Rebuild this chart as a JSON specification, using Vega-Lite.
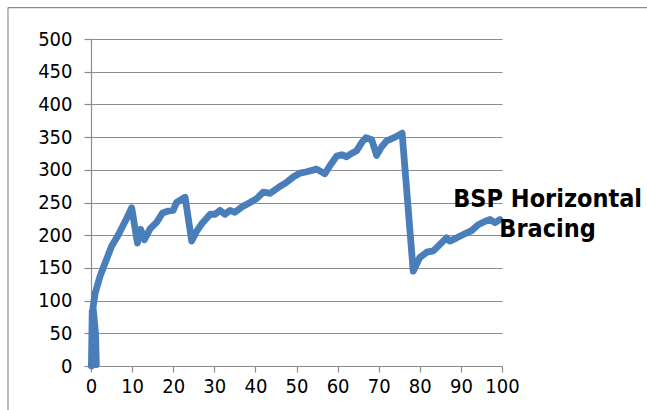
{
  "$schema": "https://vega.github.io/schema/vega-lite/v6.json",
  "width": 411,
  "height": 327,
  "autosize": {"type": "none"},
  "padding": {"left": 91, "top": 39, "right": 145, "bottom": 44},
  "background": "white",
  "config": {
    "view": {"stroke": null},
    "font": "DejaVu Sans Condensed"
  },
  "datasets": {
    "curve": [
      {"i": 0, "x": 0.1, "y": 0},
      {"i": 1, "x": 0.3, "y": 84},
      {"i": 2, "x": 1.3, "y": 2},
      {"i": 3, "x": 1.1, "y": 50},
      {"i": 4, "x": 0.5, "y": 90},
      {"i": 5, "x": 1.0, "y": 111},
      {"i": 6, "x": 2.2, "y": 137},
      {"i": 7, "x": 3.4, "y": 157},
      {"i": 8, "x": 5.0, "y": 183},
      {"i": 9, "x": 6.6, "y": 200},
      {"i": 10, "x": 8.7, "y": 226},
      {"i": 11, "x": 9.9, "y": 242},
      {"i": 12, "x": 11.3, "y": 188},
      {"i": 13, "x": 12.1, "y": 209},
      {"i": 14, "x": 13.0, "y": 193},
      {"i": 15, "x": 14.4, "y": 210},
      {"i": 16, "x": 16.0, "y": 220},
      {"i": 17, "x": 17.4, "y": 234},
      {"i": 18, "x": 18.8, "y": 237},
      {"i": 19, "x": 20.0, "y": 238},
      {"i": 20, "x": 20.8, "y": 250},
      {"i": 21, "x": 22.9, "y": 258},
      {"i": 22, "x": 24.5, "y": 191},
      {"i": 23, "x": 25.7, "y": 206},
      {"i": 24, "x": 26.9, "y": 217},
      {"i": 25, "x": 29.0, "y": 232},
      {"i": 26, "x": 30.2, "y": 232},
      {"i": 27, "x": 31.4, "y": 238},
      {"i": 28, "x": 32.6, "y": 232},
      {"i": 29, "x": 33.8, "y": 238},
      {"i": 30, "x": 35.0, "y": 235},
      {"i": 31, "x": 36.7, "y": 243},
      {"i": 32, "x": 38.7, "y": 250},
      {"i": 33, "x": 40.3, "y": 256},
      {"i": 34, "x": 41.9, "y": 266},
      {"i": 35, "x": 43.6, "y": 264},
      {"i": 36, "x": 45.6, "y": 273},
      {"i": 37, "x": 47.4, "y": 280},
      {"i": 38, "x": 49.2, "y": 289},
      {"i": 39, "x": 50.9, "y": 295},
      {"i": 40, "x": 52.5, "y": 297},
      {"i": 41, "x": 54.9, "y": 301},
      {"i": 42, "x": 56.9, "y": 294},
      {"i": 43, "x": 58.2, "y": 307},
      {"i": 44, "x": 59.8, "y": 321},
      {"i": 45, "x": 61.0, "y": 323},
      {"i": 46, "x": 62.2, "y": 320},
      {"i": 47, "x": 63.4, "y": 325},
      {"i": 48, "x": 64.6, "y": 329},
      {"i": 49, "x": 65.9, "y": 342},
      {"i": 50, "x": 66.9, "y": 349},
      {"i": 51, "x": 68.3, "y": 346},
      {"i": 52, "x": 69.5, "y": 322},
      {"i": 53, "x": 70.7, "y": 335},
      {"i": 54, "x": 71.9, "y": 344},
      {"i": 55, "x": 74.0, "y": 350},
      {"i": 56, "x": 75.7, "y": 356},
      {"i": 57, "x": 78.4, "y": 145},
      {"i": 58, "x": 80.0, "y": 166},
      {"i": 59, "x": 81.7, "y": 174},
      {"i": 60, "x": 83.3, "y": 176},
      {"i": 61, "x": 84.9, "y": 186},
      {"i": 62, "x": 86.5, "y": 196},
      {"i": 63, "x": 87.3, "y": 191},
      {"i": 64, "x": 89.0, "y": 196},
      {"i": 65, "x": 90.6, "y": 201},
      {"i": 66, "x": 92.6, "y": 207},
      {"i": 67, "x": 94.2, "y": 216},
      {"i": 68, "x": 95.8, "y": 221},
      {"i": 69, "x": 97.1, "y": 224},
      {"i": 70, "x": 98.3, "y": 219},
      {"i": 71, "x": 99.5, "y": 224}
    ],
    "frame": [
      {"seg": "top", "x": -20.2, "y": 548, "x2": 140, "y2": 548},
      {"seg": "left", "x": -20.2, "y": 548, "x2": -20.2, "y2": -70}
    ],
    "label": [
      {"x": 111.1, "y": 242.8, "t": "BSP Horizontal\nBracing"}
    ]
  },
  "encoding": {
    "x": {
      "field": "x", "type": "quantitative",
      "scale": {"domain": [0, 100], "nice": false, "zero": false},
      "axis": {
        "title": null, "values": [0, 10, 20, 30, 40, 50, 60, 70, 80, 90, 100],
        "grid": false, "domainColor": "#8c8c8c", "domainWidth": 1.2,
        "tickColor": "#8c8c8c", "tickSize": 6, "tickWidth": 1.2,
        "labelFontSize": 20, "labelColor": "#000000", "labelPadding": 4,
        "labelFont": "DejaVu Sans Condensed", "labelFlush": false, "labelOverlap": false
      }
    },
    "y": {
      "field": "y", "type": "quantitative",
      "scale": {"domain": [0, 500], "nice": false},
      "axis": {
        "title": null, "values": [0, 50, 100, 150, 200, 250, 300, 350, 400, 450, 500],
        "grid": true, "gridColor": "#8c8c8c", "gridWidth": 1.2,
        "domainColor": "#8c8c8c", "domainWidth": 1.2,
        "tickColor": "#8c8c8c", "tickSize": 7, "tickWidth": 1.2,
        "labelFontSize": 20, "labelColor": "#000000", "labelPadding": 12,
        "labelFont": "DejaVu Sans Condensed", "labelFlush": false, "labelOverlap": false
      }
    }
  },
  "layer": [
    {
      "data": {"name": "frame"},
      "mark": {"type": "rule", "color": "#8c8c8c", "strokeWidth": 1.2, "clip": false},
      "encoding": {
        "x2": {"field": "x2"},
        "y2": {"field": "y2"}
      }
    },
    {
      "data": {"name": "curve"},
      "mark": {"type": "line", "color": "#4a7ebb", "strokeWidth": 6.8, "strokeJoin": "round", "strokeCap": "round", "clip": false},
      "encoding": {
        "order": {"field": "i", "type": "quantitative"}
      }
    },
    {
      "data": {"name": "label"},
      "mark": {"type": "text", "font": "DejaVu Sans Condensed", "fontWeight": "bold", "fontSize": 25, "color": "#000000", "align": "center", "baseline": "alphabetic", "lineBreak": "\n", "lineHeight": 29.5, "clip": false},
      "encoding": {
        "text": {"field": "t"}
      }
    }
  ]
}
